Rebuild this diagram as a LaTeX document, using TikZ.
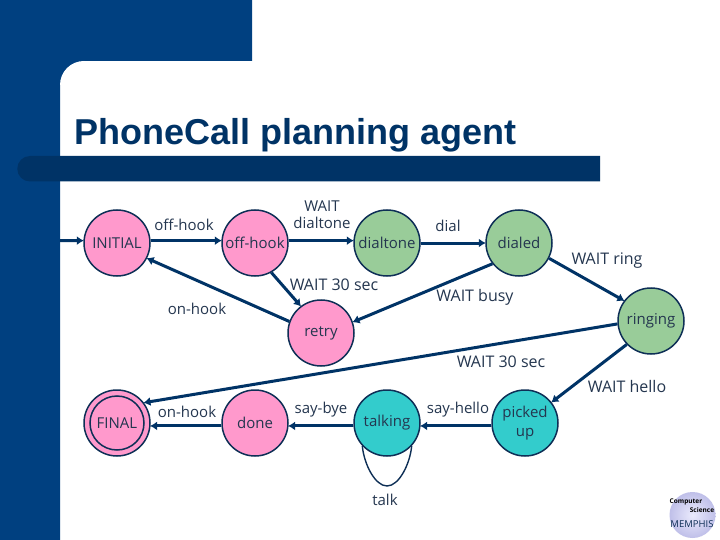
\documentclass[tikz,border=0pt]{standalone}
\usepackage{fontspec}
\setmainfont{Open Sans}
\newfontfamily\titlefont{Liberation Sans}
\usetikzlibrary{arrows.meta}
\definecolor{sidebar}{HTML}{004080}
\definecolor{bar}{HTML}{003366}
\definecolor{ink}{HTML}{0E2F56}
\definecolor{lab}{HTML}{24364F}
\definecolor{pinkfill}{HTML}{FF99CC}
\definecolor{greenfill}{HTML}{99CC99}
\definecolor{tealfill}{HTML}{33CCCC}
\tikzset{
 stt/.style={circle,draw=ink,line width=1.5pt,minimum size=66pt,inner sep=0pt,align=center,text=lab,font=\fontsize{15}{19}\selectfont},
 pinkst/.style={stt,fill=pinkfill},
 greenst/.style={stt,fill=greenfill},
 tealst/.style={stt,fill=tealfill},
 lbl/.style={text=lab,font=\fontsize{15}{17}\selectfont,align=center,inner sep=0pt},
 waitlbl/.style={lbl,font=\fontsize{16}{17}\selectfont},
 arr/.style={draw=bar,line width=3pt,-{Latex[length=7pt,width=9pt]},shorten >=-0.5pt},
 loopline/.style={draw=ink,line width=1.4pt}
}
\begin{document}
\begin{tikzpicture}[x=1pt,y=-1pt]
\useasboundingbox (0,0) rectangle (720,540);
\fill[white] (0,0) rectangle (720,540);
\fill[sidebar] (0,0) rectangle (252,61) (0,61) rectangle (60,540);
\fill[sidebar] (60,61) rectangle (84,85);
\fill[white] (60,85) arc[start angle=180,end angle=270,radius=24] -- (84,85) -- cycle;
\fill[bar] (30,156) -- (600,156) -- (600,181.5) -- (30,181.5) arc[start angle=90,end angle=270,radius=12.75] -- cycle;
\node[anchor=base west,inner sep=0pt,text=bar,font=\titlefont\bfseries\fontsize{36}{38}\selectfont] (title) at (74,145) {PhoneCall planning agent};

\coordinate (start) at (60,240.5);
\node[pinkst] (init) at (117,243) {INITIAL};
\node[pinkst] (off) at (255,243) {off-hook};
\node[greenst] (dt) at (387,243) {dialtone};
\node[greenst] (dialed) at (519,243) {dialed};
\node[greenst] (ring) at (651,321) {ringing};
\node[pinkst] (retry) at (321,333) {retry};
\node[pinkst] (final) at (117,423) {FINAL};
\draw[draw=ink,line width=1.5pt] (final.center) circle[radius=27];
\node[pinkst] (done) at (255,423) {done};
\node[tealst] (talk) at (387,423) {talking};
\node[tealst] (picked) at (525,423) {picked\\up};

\draw[arr] (start) -- (init.176);
\draw[arr] (init.4) -- (off.176);
\draw[arr] (off.4) -- (dt.176);
\draw[arr] (dt) -- (dialed);
\draw[arr] (off.-61) -- (retry.127);
\draw[arr] (retry.160) -- (init.-27);
\draw[arr] (dialed.-142) -- (retry.19);
\draw[arr] (dialed.-27) -- (ring.143);
\draw[arr] (ring.185) -- (final.37);
\draw[arr] (ring.-136) -- (picked.38);
\draw[arr] (picked.-175) -- (talk.-5);
\draw[arr] (talk.-175) -- (done.-5);
\draw[arr] (done.-175) -- (final.-5);
\draw[loopline] (talk.-137) .. controls (364,464) and (375,486) .. (387,486) .. controls (399,486) and (410,464) .. (talk.-43);

\node[lbl] at (184,224.5) {off-hook};
\node[lbl] at (322,215) {WAIT\\dialtone};
\node[lbl] at (448,225.5) {dial};
\node[waitlbl] at (607,261) {WAIT ring};
\node[waitlbl] at (334,284.5) {WAIT 30 sec};
\node[waitlbl] at (475,297) {WAIT busy};
\node[lbl] at (197,308.5) {on-hook};
\node[waitlbl] at (501,362) {WAIT 30 sec};
\node[waitlbl] at (627,386) {WAIT hello};
\node[lbl] at (187,412) {on-hook};
\node[lbl] at (321,410) {say-bye};
\node[lbl] at (458,410) {say-hello};
\node[lbl] at (385,500) {talk};

\shade[inner color=black!10!blue!8,outer color=black!35!blue!25] (692.5,515) circle[radius=23];
\node[inner sep=0pt,font=\bfseries\fontsize{6.5}{8}\selectfont,text=black] (logo1) at (686,502) {Computer};
\node[inner sep=0pt,font=\bfseries\fontsize{6.5}{8}\selectfont,text=black] (logo2) at (702,510) {Science};
\node[inner sep=0pt,font=\fontsize{9.5}{10}\selectfont,text=ink] (logo3) at (692,524) {MEMPHIS};
\end{tikzpicture}
\end{document}
